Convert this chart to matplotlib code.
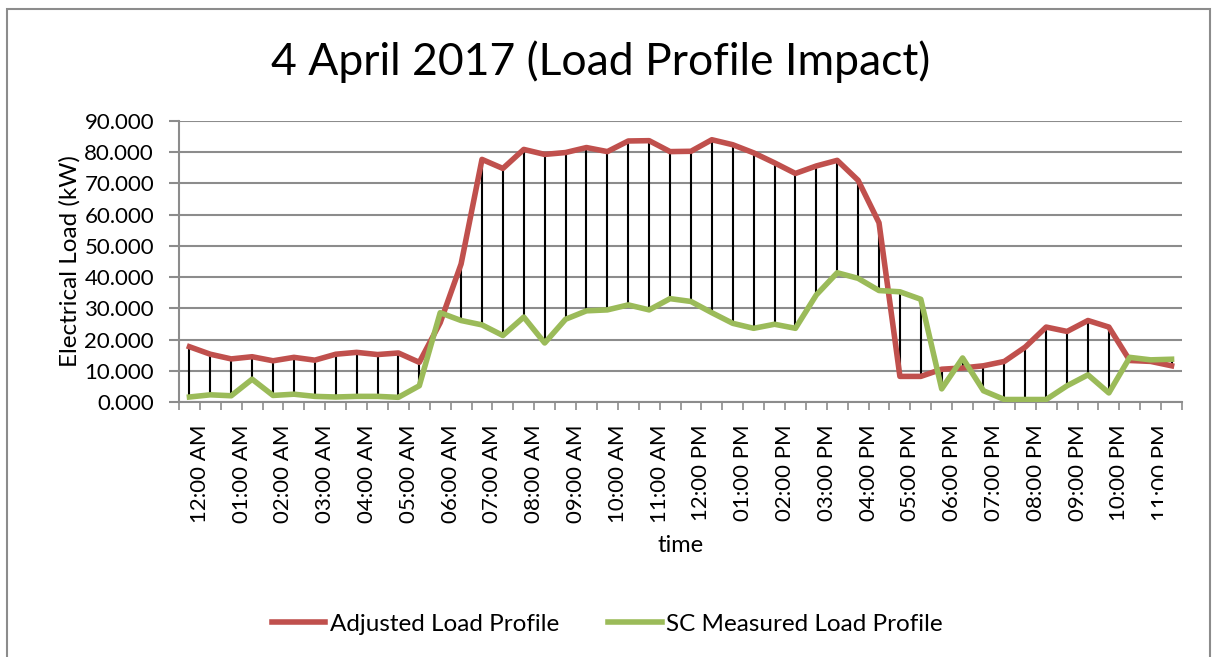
import numpy as np
import matplotlib
matplotlib.use("Agg")
import matplotlib.pyplot as plt
from matplotlib.patches import Rectangle
from matplotlib.transforms import Bbox, TransformedBbox

# half-hourly load values (kW)
hours = ["12", "01", "02", "03", "04", "05", "06", "07", "08", "09", "10", "11"]
time_labels = [f"{h}:00 AM" for h in hours] + [f"{h}:00 PM" for h in hours]

adjusted = [17.7, 15.3, 13.8, 14.5, 13.2, 14.3, 13.4, 15.3, 15.9, 15.2, 15.7, 12.7,
            25.4, 44.2, 77.7, 74.8, 80.9, 79.3, 79.9, 81.5, 80.2, 83.6, 83.7, 80.2,
            80.3, 84.0, 82.4, 79.8, 76.6, 73.2, 75.6, 77.4, 71.0, 57.4, 8.2, 8.2,
            10.5, 10.9, 11.6, 13.0, 17.6, 24.0, 22.6, 26.1, 24.0, 13.3, 13.0, 11.6]
measured = [1.6, 2.3, 2.0, 7.3, 2.1, 2.5, 1.8, 1.6, 1.8, 1.8, 1.5, 5.2,
            28.6, 26.1, 24.7, 21.3, 27.2, 18.9, 26.5, 29.2, 29.5, 31.1, 29.5, 33.1,
            32.2, 28.6, 25.2, 23.6, 24.9, 23.6, 34.3, 41.4, 39.6, 35.7, 35.3, 32.9,
            4.2, 14.1, 3.6, 0.8, 0.8, 0.8, 5.2, 8.7, 2.9, 14.3, 13.5, 13.7]

red = "#C0504D"
green = "#9BBB59"
grid_col = "#8C8C8C"
font = "Lato"

x = np.arange(len(adjusted))
adj = np.array(adjusted)
meas = np.array(measured)

fig = plt.figure(figsize=(12.15, 6.57), dpi=100)
ax = fig.add_axes([179 / 1215, 1 - 402 / 657, 1003 / 1215, 281 / 657])

# outer chart border
fig.patches.append(Rectangle((7 / 1215, -0.05), 1203 / 1215, 1.05 - 9 / 657,
                             transform=fig.transFigure, fill=False,
                             edgecolor=grid_col, linewidth=1.5))

# high-low lines between the two series
ax.vlines(x, np.minimum(adj, meas), np.maximum(adj, meas), color="black",
          linewidth=1.5, zorder=2)
ax.plot(x, adj, color=red, linewidth=4, label="Adjusted Load Profile",
        zorder=3, solid_joinstyle="round")
ax.plot(x, meas, color=green, linewidth=4, label="SC Measured Load Profile",
        zorder=3, solid_joinstyle="round")

ax.set_xlim(-0.5, len(x) - 0.5)
ax.set_ylim(0, 90)
ax.set_yticks(np.arange(0, 91, 10))
ax.set_yticklabels([f"{v:.3f}" for v in np.arange(0, 91, 10)], fontfamily=font,
                   fontsize=16)
ax.yaxis.grid(True, color=grid_col, linewidth=1.5)
ax.set_axisbelow(True)

# tick marks on category boundaries, hourly labels (Excel draws them a bit right)
ax.xaxis.remove_overlapping_locs = False
ax.set_xticks(np.arange(-0.5, len(x), 1))
ax.set_xticklabels([])
ax.set_xticks(np.arange(0, len(x), 2) + 0.5, minor=True)
ax.set_xticklabels(time_labels, minor=True, rotation=90, fontfamily=font,
                   fontsize=16)
ax.tick_params(axis="x", which="major", length=6, color=grid_col, width=1.2)
ax.tick_params(axis="x", which="minor", length=0, pad=16)
ax.tick_params(axis="y", length=7, color=grid_col, width=1.5, pad=11)

for side in ["top", "right"]:
    ax.spines[side].set_visible(False)
for side in ["left", "bottom"]:
    ax.spines[side].set_color(grid_col)
    ax.spines[side].set_linewidth(1.5)

# last label is cut off by the chart area in the original
clip = TransformedBbox(Bbox([[0, 0], [1163 / 1215, 1]]), fig.transFigure)
for lab in ax.xaxis.get_ticklabels(minor=True)[-1:]:
    lab.set_clip_box(clip)
    lab.set_clip_on(True)

ax.set_ylabel("Electrical Load (kW)", fontfamily=font, fontsize=17.5, labelpad=3)
ax.set_xlabel("time", fontfamily=font, fontsize=17, labelpad=9)
fig.text(0.494, 1 - 62 / 657, "4 April 2017 (Load Profile Impact)",
         ha="center", va="center", fontfamily=font, fontsize=32)

fig.legend(loc="center", bbox_to_anchor=(0.5, 1 - 624 / 657), ncol=2,
           frameon=False, prop={"family": font, "size": 17.5}, handlelength=2.2,
           handletextpad=0.2, columnspacing=2.0)

fig.savefig("out.png", dpi=100)
